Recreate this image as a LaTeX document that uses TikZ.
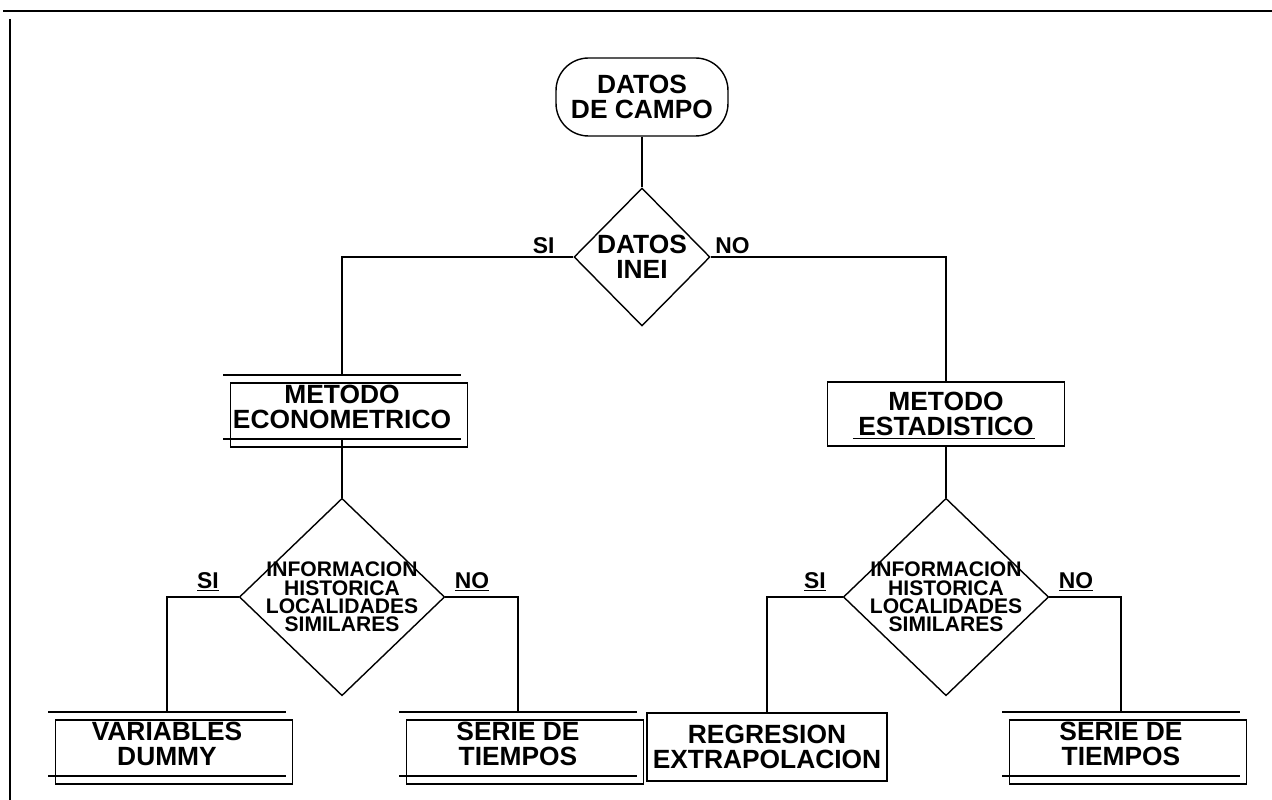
\documentclass[tikz,border=0pt]{standalone}
\usepackage{fontspec}
\setmainfont{Liberation Sans}
\usetikzlibrary{shapes.geometric}

\tikzset{
  flowtext/.style={font=\bfseries\fontsize{15}{14}\selectfont, align=center},
  startbox/.style={flowtext, draw, rounded corners=0.65cm, minimum width=3.44cm,
    minimum height=1.56cm, inner sep=0pt},
  procbox/.style={flowtext, draw, minimum width=4.74cm, minimum height=1.28cm, inner sep=0pt},
  shadowbox/.style={flowtext, minimum width=4.72cm, minimum height=1.26cm, inner sep=0pt},
  askbig/.style={flowtext, draw, diamond, aspect=1, inner sep=0pt,
    minimum width=2.72cm, minimum height=2.76cm},
  asksmall/.style={draw, diamond, aspect=1.04, inner xsep=-0.2cm, inner ysep=0pt,
    align=center, minimum width=4.08cm, minimum height=3.92cm,
    font=\bfseries\fontsize{12}{10.5}\selectfont},
  yesno/.style={font=\bfseries\fontsize{13}{13}\selectfont, inner sep=1pt},
  yesnou/.style={font=\bfseries\fontsize{13}{13}\selectfont, inner sep=0pt},
}

\begin{document}
\begin{tikzpicture}[x=0.02cm, y=-0.02cm, line width=0.8pt]
  \useasboundingbox (0,0) rectangle (1272,800);
  % marco
  \draw[line width=1.4pt] (3,11) -- (1272,11);
  \draw[line width=1.1pt] (10,19) -- (10,800);

  % nodos
  \node[startbox] (campo) at (642,97) {DATOS\\DE CAMPO};
  \node[askbig] (inei) at (642,257) {DATOS\\INEI};
  \node[shadowbox] (econ) at (342,407) {METODO\\ECONOMETRICO};
  \node[procbox] (estad) at (946,414) {METODO\\ESTADISTICO};
  \node[asksmall] (histA) at (342,597) {INFORMACION\\HISTORICA\\LOCALIDADES\\SIMILARES};
  \node[asksmall] (histB) at (946,597) {INFORMACION\\HISTORICA\\LOCALIDADES\\SIMILARES};
  \node[shadowbox] (dummy) at (167,744) {VARIABLES\\DUMMY};
  \node[shadowbox] (serie1) at (518,744) {SERIE DE\\TIEMPOS};
  \node[procbox, minimum width=4.8cm, minimum height=1.36cm] (regres) at (767,747)
    {REGRESION\\EXTRAPOLACION};
  \node[shadowbox] (serie2) at (1121,744) {SERIE DE\\TIEMPOS};

  % cajas dobles
  \foreach \n in {econ,dummy,serie1,serie2} {
    \draw (\n.north west) -- (\n.north east);
    \draw (\n.south west) -- (\n.south east);
    \draw ([shift={(7,8)}]\n.north west) rectangle ([shift={(7,8)}]\n.south east);
  }
  \draw ([shift={(26,-8)}]estad.south west) -- ([shift={(-30,-8)}]estad.south east);

  % conectores
  \draw (campo) -- (inei);
  \draw (inei.west) -| (econ.north);
  \draw (inei.east) -| (estad.north);
  \draw (econ) -- (histA);
  \draw (estad) -- (histB);
  \draw (histA.west) -| (dummy.north);
  \draw (histA.east) -| (serie1.north);
  \draw (histB.west) -| (regres.north);
  \draw (histB.east) -| (serie2.north);

  % etiquetas
  \node[yesno, anchor=south east] (siTop) at (557,256) {SI};
  \node[yesno, anchor=south west] (noTop) at (713,256) {NO};
  \node[yesnou] (siA) at (208,582) {\underline{SI}};
  \node[yesnou] (noA) at (472,582) {\underline{NO}};
  \node[yesnou] (siB) at (815,582) {\underline{SI}};
  \node[yesnou] (noB) at (1076,582) {\underline{NO}};
\end{tikzpicture}
\end{document}
